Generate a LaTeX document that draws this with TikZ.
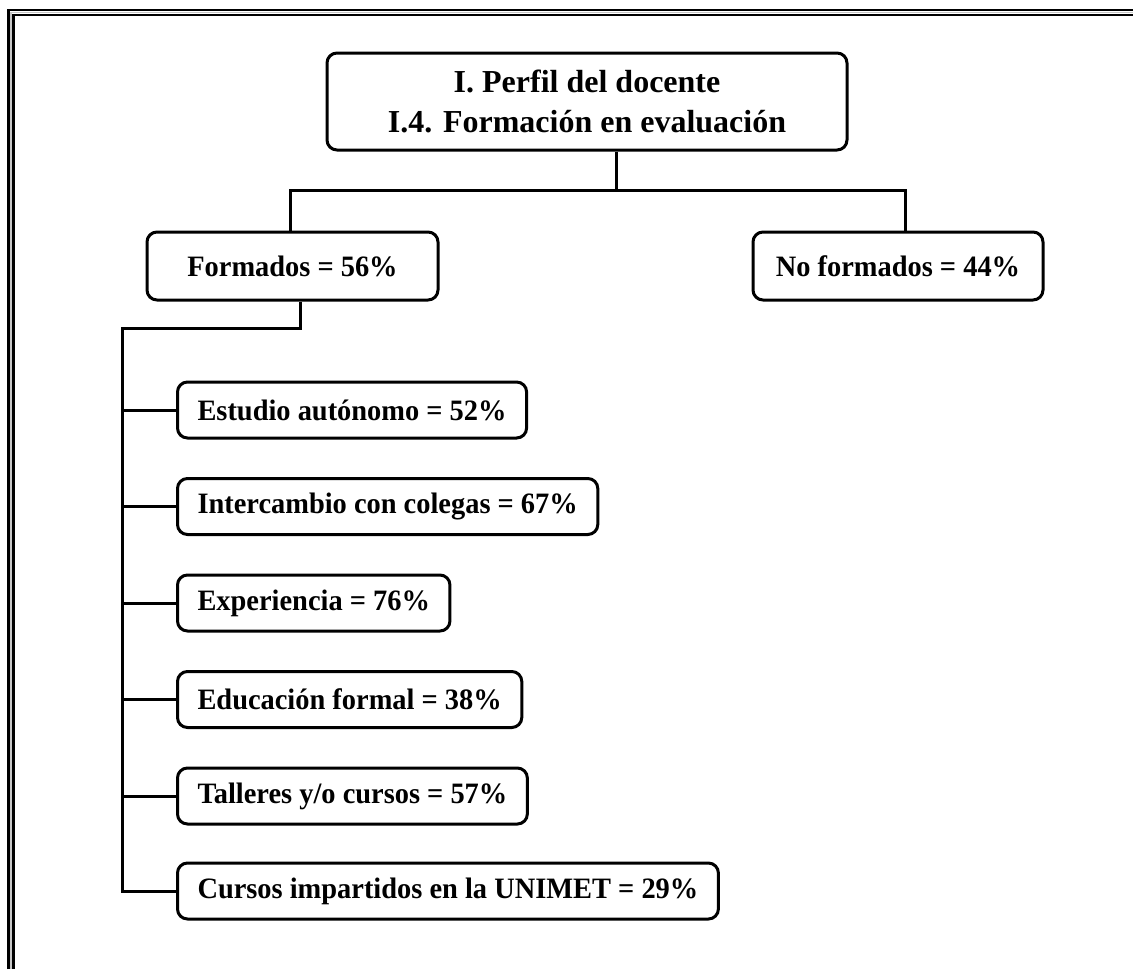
\documentclass[tikz,border=0pt]{standalone}
\usepackage{fontspec}
\setmainfont{Liberation Serif}
\newfontfamily\cajafont{Liberation Serif}[FakeStretch=0.96]

\tikzset{
  caja/.style={draw, line width=1.5pt, rounded corners=5pt, fill=white,
    font=\cajafont\bfseries\fontsize{14.8}{17}\selectfont, minimum height=28pt, inner xsep=10pt},
  linea/.style={line width=1.5pt}
}

\begin{document}
\begin{tikzpicture}[x=0.5pt,y=-0.5pt]
\useasboundingbox (0,0) rectangle (1133,969);

% marco doble (arriba e izquierda)
\draw[line width=1.3pt] (8.7,969) -- (8.7,10) -- (1133,10);
\draw[gray!45,line width=0.9pt] (11,969) -- (11,12.4) -- (1133,12.4);
\draw[line width=1.3pt] (13.2,969) -- (13.2,14.8) -- (1133,14.8);

% titulo
\node[caja, minimum width=260pt, minimum height=48.5pt, align=center,
  font=\bfseries\fontsize{16}{20}\selectfont] (titulo) at (587,101.5)
  {I. Perfil del docente\\I.4. Formación en evaluación};

% primer nivel
\node[caja, minimum width=145.5pt, minimum height=34pt] (formados) at (292.5,266) {Formados = 56\%};
\node[caja, minimum width=145pt, minimum height=34pt] (noformados) at (898,266) {No formados = 44\%};

\coordinate (izq) at (290,190.5);
\coordinate (der) at (905,190.5);
\coordinate (centro) at (616,190.5);
\draw[linea] (centro |- titulo.south) -- (centro);
\draw[linea] (formados.north -| izq) -- (izq) -- (der) -- (noformados.north -| der);

% tipos de formacion
\node[caja, anchor=west] (estudio) at (176,410) {Estudio autónomo = 52\%};
\node[caja, anchor=west] (colegas) at (176,506.5) {Intercambio con colegas = 67\%};
\node[caja, anchor=west] (experiencia) at (176,603) {Experiencia = 76\%};
\node[caja, anchor=west] (educacion) at (176,699.5) {Educación formal = 38\%};
\node[caja, anchor=west] (talleres) at (176,796) {Talleres y/o cursos = 57\%};
\node[caja, anchor=west] (unimet) at (176,891) {Cursos impartidos en la UNIMET = 29\%};

\coordinate (codo) at (300,328);
\coordinate (eje) at (122,328);
\draw[linea] (formados.south -| codo) -- (codo) -- (eje) -- (eje |- unimet) -- (unimet.west);
\draw[linea] (eje |- estudio) -- (estudio.west);
\draw[linea] (eje |- colegas) -- (colegas.west);
\draw[linea] (eje |- experiencia) -- (experiencia.west);
\draw[linea] (eje |- educacion) -- (educacion.west);
\draw[linea] (eje |- talleres) -- (talleres.west);
\end{tikzpicture}
\end{document}
